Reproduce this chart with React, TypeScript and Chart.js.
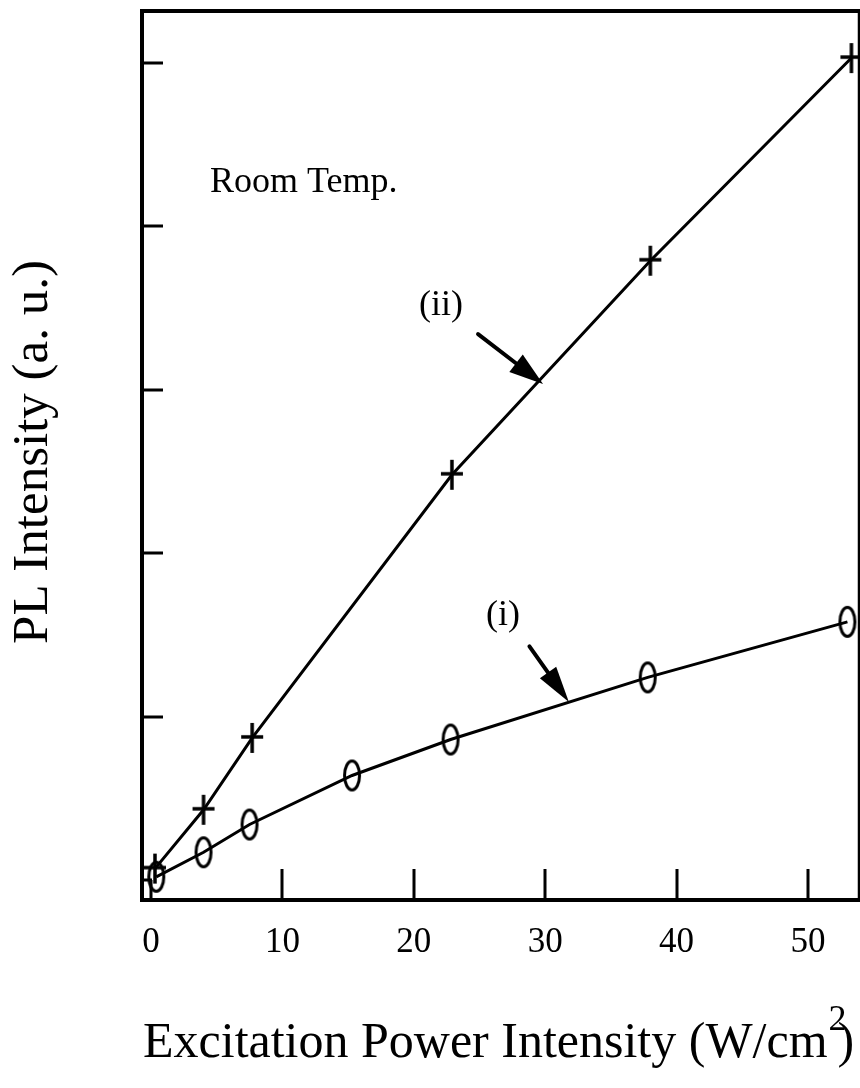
import { useEffect, useRef } from "react";
import { Chart, registerables } from "chart.js";

Chart.register(...registerables);

// ---- data ----
const X_I = [0.4, 4, 7.5, 15.3, 22.8, 37.8, 53];
const Y_I = [0.02, 0.17, 0.34, 0.64, 0.86, 1.24, 1.58];
const X_II = [0.3, 4, 7.7, 22.9, 38, 53.3];
const Y_II = [0.07, 0.43, 0.87, 2.48, 3.79, 5.03];
const X_TICKS = [0, 10, 20, 30, 40, 50];
const Y_TICKS = [0, 1, 2, 3, 4, 5];

const LABEL_I = "(i)";
const LABEL_II = "(ii)";
const NOTE = "Room Temp.";
const X_TITLE = "Excitation Power Intensity (W/cm";
const X_TITLE_SUP = "2";
const X_TITLE_END = ")";
const Y_TITLE = "PL Intensity (a. u.)";

// annotation anchors in data coordinates
const NOTE_POS = { x: 4.49, y: 4.21 };
const LABEL_II_POS = { x: 20.4, y: 3.458 };
const LABEL_I_POS = { x: 25.5, y: 1.56 };
const ARROW_II = { x0: 24.89, y0: 3.341, x1: 29.83, y1: 3.035 };
const ARROW_I = { x0: 28.8, y0: 1.43, x1: 31.8, y1: 1.09 };

const SERIF = "'Liberation Serif', 'Times New Roman', serif";

function makeCross(): HTMLCanvasElement {
  const c = document.createElement("canvas");
  c.width = 24;
  c.height = 32;
  const g = c.getContext("2d")!;
  g.strokeStyle = "#000";
  g.lineWidth = 3.5;
  g.beginPath();
  g.moveTo(12, 1);
  g.lineTo(12, 31);
  g.moveTo(1, 15);
  g.lineTo(23, 15);
  g.stroke();
  return c;
}

function makeEllipse(): HTMLCanvasElement {
  const c = document.createElement("canvas");
  c.width = 20;
  c.height = 34;
  const g = c.getContext("2d")!;
  g.strokeStyle = "#000";
  g.lineWidth = 3;
  g.beginPath();
  g.ellipse(10, 17, 7.5, 14.5, 0, 0, Math.PI * 2);
  g.stroke();
  return c;
}

function drawArrow(ctx: CanvasRenderingContext2D, x0: number, y0: number, x1: number, y1: number, headLen: number, headHalf: number) {
  const dx = x1 - x0;
  const dy = y1 - y0;
  const len = Math.hypot(dx, dy);
  const ux = dx / len;
  const uy = dy / len;
  const bx = x1 - ux * headLen;
  const by = y1 - uy * headLen;
  ctx.save();
  ctx.strokeStyle = "#000";
  ctx.fillStyle = "#000";
  ctx.lineWidth = 4;
  ctx.lineCap = "round";
  ctx.beginPath();
  ctx.moveTo(x0, y0);
  ctx.lineTo(bx + ux * 4, by + uy * 4);
  ctx.stroke();
  ctx.beginPath();
  ctx.moveTo(x1, y1);
  ctx.lineTo(bx - uy * headHalf, by + ux * headHalf);
  ctx.lineTo(bx + uy * headHalf, by - ux * headHalf);
  ctx.closePath();
  ctx.fill();
  ctx.restore();
}

const decoPlugin = {
  id: "deco",
  afterDatasetsDraw(chart: any) {
    const ctx: CanvasRenderingContext2D = chart.ctx;
    const { left, right, top, bottom } = chart.chartArea;
    const xs = chart.scales.x;
    const ys = chart.scales.y;
    ctx.save();
    ctx.strokeStyle = "#000";
    ctx.lineCap = "butt";

    // frame
    ctx.lineWidth = 4;
    ctx.beginPath();
    ctx.moveTo(left, top - 2);
    ctx.lineTo(left, bottom + 2);
    ctx.moveTo(left - 2, top);
    ctx.lineTo(right + 1, top);
    ctx.moveTo(left - 2, bottom);
    ctx.lineTo(right + 1, bottom);
    ctx.stroke();
    ctx.lineWidth = 2.5;
    ctx.beginPath();
    ctx.moveTo(right, top);
    ctx.lineTo(right, bottom);
    ctx.stroke();

    // inward ticks
    ctx.lineWidth = 3;
    ctx.beginPath();
    for (const v of Y_TICKS) {
      const py = Math.round(ys.getPixelForValue(v));
      ctx.moveTo(left, py);
      ctx.lineTo(left + (v === 0 ? 10 : 21), py);
    }
    for (const v of X_TICKS) {
      const px = Math.round(xs.getPixelForValue(v));
      ctx.moveTo(px, bottom);
      ctx.lineTo(px, bottom - (v === 0 ? 20 : 31));
    }
    ctx.stroke();

    // arrows
    drawArrow(ctx, xs.getPixelForValue(ARROW_II.x0), ys.getPixelForValue(ARROW_II.y0), xs.getPixelForValue(ARROW_II.x1), ys.getPixelForValue(ARROW_II.y1), 34, 11);
    drawArrow(ctx, xs.getPixelForValue(ARROW_I.x0), ys.getPixelForValue(ARROW_I.y0), xs.getPixelForValue(ARROW_I.x1), ys.getPixelForValue(ARROW_I.y1), 36, 10);

    // texts
    ctx.fillStyle = "#000";
    ctx.textBaseline = "alphabetic";
    ctx.textAlign = "left";
    ctx.font = `36px ${SERIF}`;
    ctx.fillText(NOTE, xs.getPixelForValue(NOTE_POS.x), ys.getPixelForValue(NOTE_POS.y));
    ctx.fillText(LABEL_II, xs.getPixelForValue(LABEL_II_POS.x), ys.getPixelForValue(LABEL_II_POS.y));
    ctx.fillText(LABEL_I, xs.getPixelForValue(LABEL_I_POS.x), ys.getPixelForValue(LABEL_I_POS.y));

    // x title
    ctx.font = `50px ${SERIF}`;
    const tx = left + 1;
    const ty = bottom + 157;
    ctx.fillText(X_TITLE, tx, ty);
    const w = ctx.measureText(X_TITLE).width;
    ctx.font = `36px ${SERIF}`;
    ctx.fillText(X_TITLE_SUP, tx + w + 1, ty - 27);
    ctx.font = `50px ${SERIF}`;
    ctx.fillText(X_TITLE_END, tx + w + 10, ty);

    // y title
    ctx.save();
    ctx.translate(47, 452);
    ctx.rotate(-Math.PI / 2);
    ctx.font = `51px ${SERIF}`;
    ctx.textAlign = "center";
    ctx.fillText(Y_TITLE, 0, 0);
    ctx.restore();

    ctx.restore();
  },
};

export default function App() {
  const ref = useRef<HTMLCanvasElement | null>(null);

  useEffect(() => {
    if (!ref.current) return;
    const cross = makeCross();
    const ellipse = makeEllipse();
    const chart = new Chart(ref.current, {
      type: "line",
      data: {
        datasets: [
          {
            label: "(ii)",
            data: X_II.map((x, i) => ({ x, y: Y_II[i] })),
            borderColor: "#000",
            borderWidth: 3,
            pointStyle: cross as any,
            pointRadius: 12,
            tension: 0,
            fill: false,
            clip: false as any,
          },
          {
            label: "(i)",
            data: X_I.map((x, i) => ({ x, y: Y_I[i] })),
            borderColor: "#000",
            borderWidth: 3,
            pointStyle: ellipse as any,
            pointRadius: 12,
            tension: 0,
            fill: false,
            clip: false as any,
          },
        ],
      },
      options: {
        animation: false,
        responsive: false,
        devicePixelRatio: 1,
        layout: { autoPadding: false, padding: { left: 142, right: 1, top: 11, bottom: 0 } },
        plugins: { legend: { display: false }, tooltip: { enabled: false }, title: { display: false } },
        scales: {
          x: {
            type: "linear",
            min: -0.685,
            max: 53.88,
            grid: { display: false, drawTicks: false },
            border: { display: false },
            afterBuildTicks: (s: any) => {
              s.ticks = X_TICKS.map((v) => ({ value: v }));
            },
            afterFit: (s: any) => {
              s.height = 188;
              s.paddingLeft = 0;
              s.paddingRight = 0;
            },
            ticks: {
              color: "#000",
              font: { family: SERIF, size: 35 },
              padding: 22,
              maxRotation: 0,
              autoSkip: false,
              callback: (v: any) => String(v),
            },
          },
          y: {
            type: "linear",
            display: false,
            min: -0.122,
            max: 5.318,
          },
        },
      },
      plugins: [decoPlugin],
    });
    return () => chart.destroy();
  }, []);

  return (
    <div style={{ position: "fixed", left: 0, top: 0, width: 860, height: 1088, background: "#fff" }}>
      <canvas ref={ref} width={860} height={1088} style={{ display: "block" }} />
    </div>
  );
}
